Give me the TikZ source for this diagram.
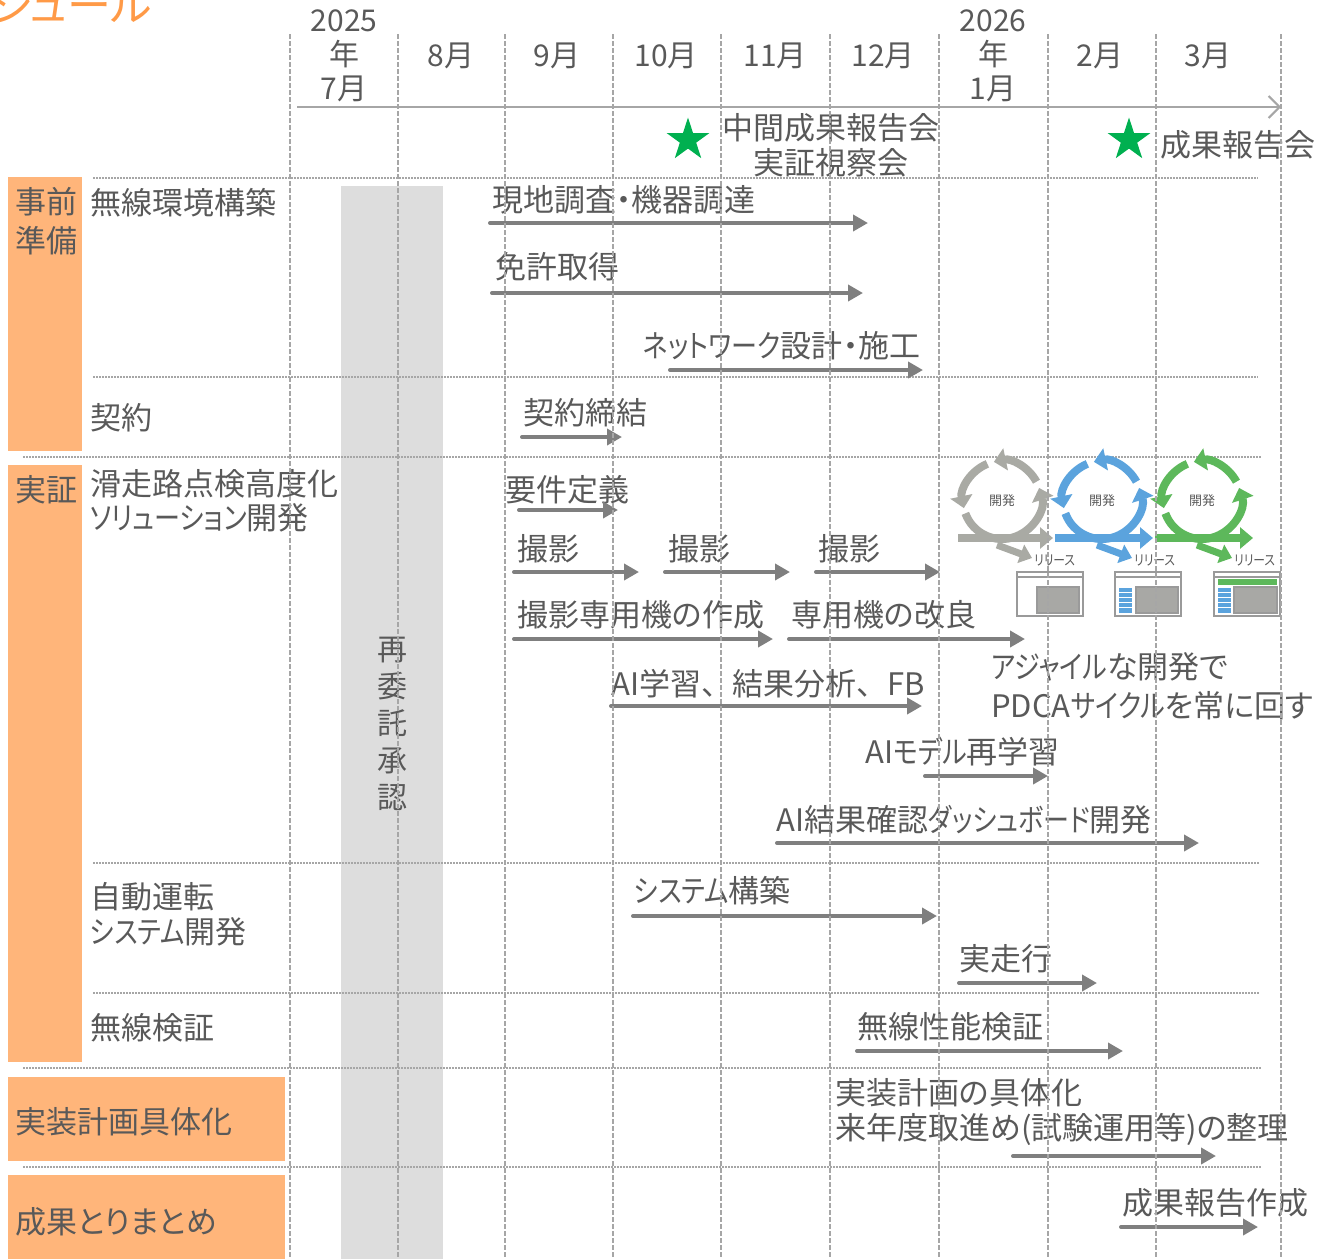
\documentclass[tikz,border=0pt]{standalone}
\usepackage{fontspec}
\setmainfont{Noto Sans CJK JP}[RawFeature=+palt]
\newfontfamily\kn{Noto Sans CJK JP}[RawFeature=+palt, FakeStretch=0.84]
\newfontfamily\fw{Noto Sans CJK JP}
\usetikzlibrary{arrows.meta,shapes.geometric}

\definecolor{ink}{HTML}{595959}
\definecolor{barcol}{HTML}{7F7F7F}
\definecolor{rule}{HTML}{A6A6A6}
\definecolor{phase}{HTML}{FFB57A}
\definecolor{titlecol}{HTML}{FF9A47}
\definecolor{holdband}{HTML}{DDDDDD}
\definecolor{milestone}{HTML}{00B050}
\definecolor{cycgray}{HTML}{A9AAA4}
\definecolor{cycblue}{HTML}{5BA3DD}
\definecolor{cycgreen}{HTML}{5DB85B}
\definecolor{winfill}{HTML}{A8A8A5}
\definecolor{winedge}{HTML}{9A9A9A}

\tikzset{
  lbl/.style={text=ink, inner sep=0pt, align=left, font=\fontsize{31}{35}\selectfont},
  gbar/.style={draw=barcol, line width=4pt, line cap=round, -{Triangle[length=15pt,width=16pt]}},
  monthsep/.style={draw=rule, line width=1.5pt, dash pattern=on 4.5pt off 2.5pt},
  rowsep/.style={draw=rule, line width=1.5pt, dash pattern=on 1.5pt off 1.5pt},
  mstar/.style={star, star points=5, star point ratio=2.62, fill=milestone, draw=none, minimum size=45pt, inner sep=0pt},
}

% one schedule item: label above a horizontal bar arrow
\newcommand\gtask[7]{%
  \node[lbl, anchor=west] (#1) at (#3,#4) {#2};
  \draw[gbar] (#5,#7) -- (#6,#7);}

% one develop/release cycle icon
\newcommand\devcycle[4]{%
  \begin{scope}[shift={(#3,500)}, y=1pt,
      cyc/.style={draw=#2, line width=8pt, -{Triangle[length=12pt,width=22pt]}}]
    \draw[cyc] (200:39) arc[start angle=200, end angle=378, radius=39];
    \draw[cyc] (28:39) arc[start angle=28, end angle=102, radius=39];
    \draw[cyc] (112:39) arc[start angle=112, end angle=192, radius=39];
    \draw[draw=#2, line width=8pt, -{Triangle[length=13pt,width=21pt]}] (#4,-38) -- (51,-38);
    \draw[draw=#2, line width=7pt, -{Triangle[length=12pt,width=19pt]}] (-5,-45) -- (30,-58);
    \node[text=ink, inner sep=0pt, font=\fontsize{13}{13}\selectfont] (#1dev) at (0,-1) {開発};
    \node[text=ink, inner sep=0pt, anchor=west, font=\fontsize{14}{14}\selectfont\kn] (#1rel) at (32,-60) {リリース};
  \end{scope}}

\begin{document}
\begin{tikzpicture}[x=1pt, y=-1pt]
\useasboundingbox (0,0) rectangle (1320,1259);
\clip (0,0) rectangle (1320,1259);

% heading
\node[anchor=east, inner sep=0pt, text=titlecol, font=\fontsize{44}{44}\selectfont] (title) at (152,5) {スケジュール};

% phase blocks and the approval band
\fill[phase] (8,177) rectangle (82,451);
\fill[phase] (8,465) rectangle (82,1062);
\fill[phase] (8,1077) rectangle (285,1161);
\fill[phase] (8,1175) rectangle (285,1259);
\fill[holdband] (341,186) rectangle (443,1259);

% row separators
\draw[rowsep] (93,178) -- (1258,178);
\draw[rowsep] (93,377) -- (1258,377);
\draw[rowsep] (23,457) -- (1262,457);
\draw[rowsep] (93,863) -- (1259,863);
\draw[rowsep] (93,993) -- (1259,993);
\draw[rowsep] (23,1068) -- (1262,1068);
\draw[rowsep] (23,1167) -- (1262,1167);

% time axis
\draw[draw=rule, line width=2pt, -{Straight Barb[length=11pt,width=22pt]}] (297,107) -- (1281,107);

% months
\begin{scope}[every node/.style={lbl, align=center, font=\fontsize{30}{34}\selectfont}]
  \node (m7) at (344,56) {2025\\年\\7月};
  \node (m8) at (451,56) {8月};
  \node (m9) at (557,56) {9月};
  \node (m10) at (666,56) {10月};
  \node (m11) at (775,56) {11月};
  \node (m12) at (883,56) {12月};
  \node (m1) at (993,56) {2026\\年\\1月};
  \node (m2) at (1100,56) {2月};
  \node (m3) at (1208,56) {3月};
\end{scope}

% milestones
\node[mstar] (s1) at (688,140) {};
\node[lbl, align=center] (s1l) at (831,145) {中間成果報告会\\実証視察会};
\node[mstar] (s2) at (1129,140) {};
\node[lbl, anchor=west] (s2l) at (1160,145) {成果報告会};

% phase and row labels
\node[lbl, anchor=west, font=\fontsize{31}{39}\selectfont] (ppre) at (15,221) {事前\\準備};
\node[lbl, anchor=west] (pdemo) at (15,490) {実証};
\node[lbl, anchor=west] (pimpl) at (15,1122) {実装計画具体化};
\node[lbl, anchor=west] (psum) at (15,1222) {成果とりまとめ};
\node[lbl, anchor=west] (rwire) at (90,203) {無線環境構築};
\node[lbl, anchor=west] (rcon) at (90,418) {契約};
\node[lbl, anchor=west, font=\fontsize{31}{34}\selectfont] (rrun) at (90,501) {滑走路点検高度化\\{\kn ソリューション}開発};
\node[lbl, anchor=west, font=\fontsize{31}{35}\selectfont] (rauto) at (90,914) {自動運転\\{\kn システム}開発};
\node[lbl, anchor=west] (rradio) at (90,1028) {無線検証};

\node[lbl, align=center, font=\fontsize{30}{37}\selectfont] (hold) at (392,724) {再\\委\\託\\承\\認};

% schedule items
\gtask{t1}{現地調査・機器調達}{492}{200}{490}{868}{223}
\gtask{t2}{免許取得}{495}{267}{492}{863}{293}
\gtask{t3}{{\kn ネットワーク}設計・施工}{643}{346}{670}{923}{370}
\gtask{t4}{契約締結}{523}{413}{522}{622}{437}
\gtask{t5}{要件定義}{505}{490}{519}{618}{510}
\gtask{t6}{撮影}{517}{549}{514}{639}{572}
\gtask{t7}{撮影}{668}{549}{665}{790}{572}
\gtask{t8}{撮影}{818}{549}{816}{940}{572}
\gtask{t9}{撮影専用機の作成}{517}{615}{514}{773}{639}
\gtask{t10}{専用機の改良}{791}{615}{789}{1025}{639}
\gtask{t11}{AI学習{\fw 、}結果分析{\fw 、}FB}{611}{684}{611}{922}{706}
\gtask{t12}{AI{\kn モデル}再学習}{865}{752}{925}{1048}{776}
\gtask{t13}{AI結果確認{\kn ダッシュボード}開発}{776}{820}{777}{1199}{843}
\gtask{t14}{{\kn システム}構築}{634}{891}{633}{937}{916}
\gtask{t15}{実走行}{959}{959}{959}{1097}{983}
\gtask{t16}{無線性能検証}{857}{1027}{857}{1123}{1051}
\gtask{t17}{実装計画の具体化\\来年度取進め(試験運用等)の整理}{835}{1112}{1013}{1216}{1156}
\gtask{t18}{成果報告作成}{1122}{1203}{1121}{1258}{1227}

\node[lbl, anchor=west, font=\fontsize{31}{39}\selectfont] (agile) at (991,686) {{\kn アジャイル}な開発で\\PDCA{\kn サイクル}を常に回す};

% develop / release cycles
\devcycle{ca}{cycgray}{1002}{-44}
\devcycle{cb}{cycblue}{1102}{-47}
\devcycle{cc}{cycgreen}{1202}{-47}

% released screens
\begin{scope}[line width=1.2pt]
  \draw[draw=winedge, fill=white] (1017,572) rectangle (1083,616);
  \draw[draw=winedge] (1017,577) -- (1083,577);
  \draw[draw=winedge, fill=winfill] (1037,587) rectangle (1079,613);

  \draw[draw=winedge, fill=white] (1115,572) rectangle (1181,616);
  \draw[draw=winedge] (1115,577) -- (1181,577);
  \foreach \i in {0,...,4}
    \draw[draw=white, line width=0.8pt, fill=cycblue] (1118,587+5.2*\i) rectangle (1132,587+5.2*\i+5.2);
  \draw[draw=winedge, fill=winfill] (1136,587) rectangle (1178,613);

  \draw[draw=winedge, fill=white] (1214,572) rectangle (1280,616);
  \draw[draw=winedge] (1214,577) -- (1280,577);
  \fill[cycgreen] (1218,579) rectangle (1277,585);
  \foreach \i in {0,...,4}
    \draw[draw=white, line width=0.8pt, fill=cycblue] (1217,587+5.2*\i) rectangle (1231,587+5.2*\i+5.2);
  \draw[draw=winedge, fill=winfill] (1234,587) rectangle (1277,613);
\end{scope}

% month boundaries
\foreach \x in {290,398,505,613,721,830,939,1048,1156,1281}
  \draw[monthsep] (\x,34) -- (\x,1259);
\end{tikzpicture}
\end{document}
